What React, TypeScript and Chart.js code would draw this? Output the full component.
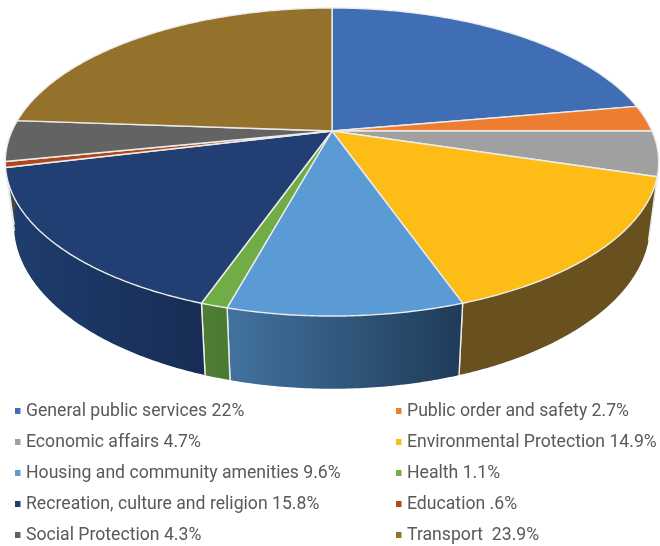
import React, { useEffect, useRef } from "react";
import { Chart, registerables } from "chart.js";

Chart.register(...registerables);

const categories = [
  "General public services",
  "Public order and safety",
  "Economic affairs",
  "Environmental Protection",
  "Housing and community amenities",
  "Health",
  "Recreation, culture and religion",
  "Education",
  "Social Protection",
  "Transport",
];
const shares = [22, 2.7, 4.7, 14.9, 9.6, 1.1, 15.8, 0.6, 4.3, 23.9];
const shareTexts = ["22%", "2.7%", "4.7%", "14.9%", "9.6%", "1.1%", "15.8%", ".6%", "4.3%", " 23.9%"];
const faceColors = ["#406EB5", "#ED7D31", "#A0A0A0", "#FDBD16", "#5B9BD5", "#70AD47", "#223F74", "#B0481C", "#636363", "#95722B"];
const wallLeft = ["#2c4d80", "#a05520", "#6c6c6c", "#69511f", "#42739f", "#4f7d34", "#1f3d6e", "#7a3214", "#444444", "#6b5120"];
const wallRight = ["#2c4d80", "#a05520", "#6c6c6c", "#69511f", "#1f3b58", "#4b7a32", "#172d55", "#7a3214", "#444444", "#6b5120"];

const FONT = '17.65px Roboto, sans-serif';
const TEXT_COLOR = "#595959";
const LEGEND_X = [15, 396];
const LEGEND_TEXT_X = [26, 407];
const LEGEND_Y = [411, 442, 473, 504, 535];

// Projective views of the pie's top and bottom discs.
const top3d = { cx: 332, cy: 131, a: 320, b: 147.8, k: 0.2013 };
const bottom3d = { cx: 332, cy: 192, a: 311.6, b: 157.4, k: 0.2 };
const DEG = Math.PI / 180;

type View = typeof top3d;

function project(view: View, angle: number, radius = 1) {
  const tilt = (0.5 + 0.2 * Math.max(0, Math.sin(angle))) * DEG;
  const t = angle + tilt * Math.min(1, 1 - Math.cos(angle));
  const u = radius * Math.sin(t);
  const v = -radius * Math.cos(t);
  const d = 1 - view.k * v;
  return { x: view.cx + (view.a * u) / d, y: view.cy + (view.b * v) / d };
}

function rim(view: View, from: number, to: number) {
  const steps = Math.max(2, Math.ceil(Math.abs(to - from) / 0.01));
  const pts = [];
  for (let i = 0; i <= steps; i++) pts.push(project(view, from + ((to - from) * i) / steps));
  return pts;
}

const pie3dPlugin = {
  id: "pie3d",
  beforeDatasetsDraw(chart: any) {
    const { ctx } = chart;
    const arcs = chart.getDatasetMeta(0).data;
    const colors = chart.data.datasets[0].backgroundColor;
    const front0 = Math.PI * 0.45;
    const front1 = Math.PI * 1.55;

    ctx.save();
    ctx.lineJoin = "round";
    arcs.forEach((arc: any, i: number) => {
      const s = arc.startAngle + Math.PI / 2;
      const e = arc.endAngle + Math.PI / 2;
      const from = Math.max(s, front0);
      const to = Math.min(e, front1);
      if (to <= from) return;
      const upper = rim(top3d, from, to);
      const lower = rim(bottom3d, from, to);
      const grad = ctx.createLinearGradient(upper[0].x, 0, upper[upper.length - 1].x, 0);
      grad.addColorStop(0, wallRight[i]);
      grad.addColorStop(1, wallLeft[i]);
      ctx.fillStyle = grad;
      ctx.beginPath();
      upper.forEach((p: any, n: number) => (n ? ctx.lineTo(p.x, p.y) : ctx.moveTo(p.x, p.y)));
      lower.reverse().forEach((p: any) => ctx.lineTo(p.x, p.y));
      ctx.closePath();
      ctx.fill();
      lower.reverse();
      ctx.strokeStyle = "#ececec";
      ctx.lineWidth = 1.4;
      ctx.beginPath();
      if (from === s) {
        ctx.moveTo(upper[0].x, upper[0].y);
        ctx.lineTo(lower[0].x, lower[0].y);
      }
      if (to === e) {
        const n = upper.length - 1;
        ctx.moveTo(upper[n].x, upper[n].y);
        ctx.lineTo(lower[n].x, lower[n].y);
      }
      ctx.stroke();
    });

    arcs.forEach((arc: any, i: number) => {
      const s = arc.startAngle + Math.PI / 2;
      const e = arc.endAngle + Math.PI / 2;
      ctx.fillStyle = colors[i];
      ctx.strokeStyle = "#ececec";
      ctx.lineWidth = 1.4;
      ctx.beginPath();
      ctx.moveTo(top3d.cx, top3d.cy);
      rim(top3d, s, e).forEach((p) => ctx.lineTo(p.x, p.y));
      ctx.closePath();
      ctx.fill();
      ctx.stroke();
    });
    ctx.restore();
    return false;
  },
  afterDraw(chart: any) {
    const { ctx } = chart;
    const labels = chart.data.labels;
    const colors = chart.data.datasets[0].backgroundColor;
    ctx.save();
    ctx.font = FONT;
    ctx.textBaseline = "middle";
    labels.forEach((label: string, i: number) => {
      const col = i % 2;
      const row = Math.floor(i / 2);
      ctx.fillStyle = colors[i];
      ctx.fillRect(LEGEND_X[col], LEGEND_Y[row] - 3, 5.5, 6);
      ctx.fillStyle = TEXT_COLOR;
      ctx.fillText(label, LEGEND_TEXT_X[col], LEGEND_Y[row] + 1);
    });
    ctx.restore();
  },
};

export default function App() {
  const ref = useRef<HTMLCanvasElement>(null);
  useEffect(() => {
    const chart = new Chart(ref.current!, {
      type: "pie",
      data: {
        labels: categories.map((c, i) => `${c} ${shareTexts[i]}`),
        datasets: [{ data: shares, backgroundColor: faceColors }],
      },
      options: {
        animation: false,
        responsive: false,
        plugins: { legend: { display: false }, tooltip: { enabled: false }, title: { display: false } },
      },
      plugins: [pie3dPlugin],
    });
    return () => chart.destroy();
  }, []);
  return (
    <canvas
      ref={ref}
      width={660}
      height={546}
      style={{ position: "absolute", left: 0, top: 0, width: 660, height: 546, background: "#fff" }}
    />
  );
}
